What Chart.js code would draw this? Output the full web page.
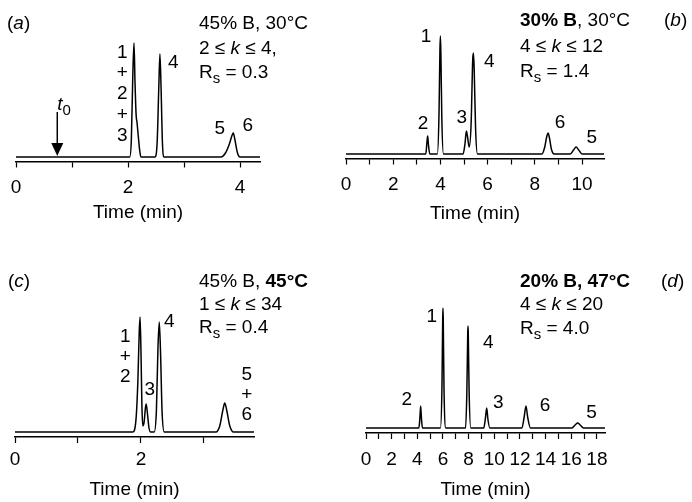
<!DOCTYPE html>
<html>
<head>
<meta charset="utf-8">
<script src="https://cdn.jsdelivr.net/npm/chart.js@4.4.1/dist/chart.umd.min.js"></script>
<style>
  html, body { margin: 0; padding: 0; background: #fff; }
  #wrap { position: relative; width: 692px; height: 502px; }
  #wrap canvas { position: absolute; left: 0; top: 0; }
</style>
</head>
<body>
<div id="wrap">
  <canvas id="chartA" width="692" height="502"></canvas>
  <canvas id="chartB" width="692" height="502"></canvas>
  <canvas id="chartC" width="692" height="502"></canvas>
  <canvas id="chartD" width="692" height="502"></canvas>
</div>
<script>
// Chromatogram traces: retention time (min) and detector signal
const timeA = [0, 2.03, 2.06, 2.085, 2.107, 2.125, 2.145, 2.16, 2.185, 2.21, 2.23,
  2.48, 2.52, 2.55, 2.57, 2.59, 2.615, 2.645,
  3.66, 3.74, 3.81, 3.86, 3.88, 3.91, 3.95, 4.0, 4.357];
const signalA = [0, 0, 18, 80, 114, 75, 42, 35, 20, 6, 0,
  0, 14, 70, 103, 70, 14, 0,
  0, 4, 13, 22, 24, 17, 5, 0, 0];

const timeB = [0, 3.38, 3.43, 3.46, 3.49, 3.55,
  3.87, 3.94, 3.98, 4.0, 4.02, 4.06, 4.13,
  4.96, 5.04, 5.1, 5.15, 5.22, 5.3, 5.37, 5.4, 5.43, 5.49, 5.57,
  8.3, 8.42, 8.51, 8.56, 8.62, 8.7, 8.82,
  9.5, 9.64, 9.75, 9.86, 10.0, 10.93];
const signalB = [0, 0, 12, 18, 10, 0,
  0, 40, 105, 118, 100, 35, 0,
  0, 10, 23, 17, 7, 30, 95, 101, 85, 25, 0,
  0, 7, 18, 21, 16, 5, 0,
  0, 4, 7, 4, 0, 0];

const timeC = [0, 1.87, 1.92, 1.95, 1.972, 1.985, 2.0, 2.015, 2.03, 2.05, 2.07, 2.082, 2.1, 2.125, 2.15,
  2.21, 2.245, 2.27, 2.29, 2.31, 2.335, 2.37,
  3.19, 3.25, 3.3, 3.33, 3.36, 3.41, 3.47, 3.794];
const signalC = [0, 0, 12, 50, 100, 115, 80, 25, 6, 10, 24, 28, 20, 5, 0,
  0, 22, 85, 110, 80, 20, 0,
  0, 6, 22, 29, 22, 6, 0, 0];

const timeD = [0, 4.12, 4.2, 4.26, 4.32, 4.4,
  5.8, 5.92, 5.98, 6.0, 6.02, 6.08, 6.22,
  7.76, 7.86, 7.93, 7.95, 7.97, 8.04, 8.17,
  9.18, 9.3, 9.41, 9.5, 9.65,
  12.15, 12.33, 12.47, 12.6, 12.82,
  16.05, 16.3, 16.5, 16.7, 16.95, 18.63];
const signalD = [0, 0, 10, 22, 10, 0,
  0, 40, 110, 120, 110, 40, 0,
  0, 35, 95, 102, 95, 35, 0,
  0, 9, 20, 9, 0,
  0, 11, 22, 11, 0,
  0, 3, 5, 3, 0, 0];

// labelled ticks on each time axis (minor ticks every minute)
const tickLabelsA = [0, 2, 4];
const tickLabelsB = [0, 2, 4, 6, 8, 10];
const tickLabelsC = [0, 2];
const tickLabelsD = [0, 2, 4, 6, 8, 10, 12, 14, 16, 18];

// peak numbers [time, signal, lines]
const peaksA = [[1.90, 104.5, ['1', '+', '2', '+', '3']], [2.81, 94, ['4']], [3.64, 28, ['5']], [4.14, 31, ['6']]];
const peaksB = [[3.39, 117, ['1']], [6.07, 92.5, ['4']], [3.26, 30, ['2']], [4.90, 36, ['3']], [9.07, 31, ['6']], [10.41, 16, ['5']]];
const peaksC = [[1.75, 95.3, ['1', '+', '2']], [2.14, 42, ['3']], [2.45, 110.3, ['4']], [3.68, 57, ['5', '+', '6']]];
const peaksD = [[5.12, 111, ['1']], [9.53, 85, ['4']], [3.17, 28, ['2']], [10.31, 25, ['3']], [13.95, 22, ['6']], [17.59, 15, ['5']]];

// run conditions, as styled text runs
const condA = [[['45% B, 30°C']], [['2 ≤ '], ['k', 'i'], [' ≤ 4,']], [['R'], ['s', 'sub'], [' = 0.3']]];
const condB = [[['30% B', 'b'], [', 30°C']], [['4 ≤ '], ['k', 'i'], [' ≤ 12']], [['R'], ['s', 'sub'], [' = 1.4']]];
const condC = [[['45% B, '], ['45°C', 'b']], [['1 ≤ '], ['k', 'i'], [' ≤ 34']], [['R'], ['s', 'sub'], [' = 0.4']]];
const condD = [[['20% B, 47°C', 'b']], [['4 ≤ '], ['k', 'i'], [' ≤ 20']], [['R'], ['s', 'sub'], [' = 4.0']]];

const FONT = '"Liberation Sans", Arial, Helvetica, sans-serif';
const SIZE = 19;
Chart.defaults.font.family = FONT;
Chart.defaults.font.size = SIZE;
Chart.defaults.color = '#000';

function drawRich(ctx, x, y, runs) {
  let cx = x;
  ctx.textAlign = 'left';
  ctx.textBaseline = 'alphabetic';
  runs.forEach(([t, st]) => {
    const sub = st === 'sub';
    ctx.font = (st === 'i' ? 'italic ' : '') + (st === 'b' ? 'bold ' : '') + (sub ? 15 : SIZE) + 'px ' + FONT;
    ctx.fillText(t, cx, y + (sub ? 5 : 0));
    cx += ctx.measureText(t).width;
  });
}

function makePanel(id, p) {
  const axisH = p.titleY + SIZE * 0.6 - p.axisY;
  const notes = {
    id: 'notes' + id,
    afterDraw(chart) {
      const ctx = chart.ctx;
      const xs = chart.scales.x, ys = chart.scales.y;
      ctx.save();
      ctx.fillStyle = '#000';
      // panel letter and conditions
      drawRich(ctx, p.tag[0], p.tag[1], [['('], [p.letter, 'i'], [')']]);
      p.cond.forEach((runs, i) => drawRich(ctx, p.condX, p.condY[i], runs));
      // peak numbers
      ctx.font = SIZE + 'px ' + FONT;
      ctx.textAlign = 'center';
      ctx.textBaseline = 'middle';
      p.peaks.forEach(([t, v, lines]) => {
        const px = xs.getPixelForValue(t), py = ys.getPixelForValue(v);
        lines.forEach((s, i) => ctx.fillText(s, px, py + i * p.stack));
      });
      // dead-time marker
      if (p.t0) {
        const ax = xs.getPixelForValue(p.t0.x);
        const top = ys.getPixelForValue(p.t0.from), tip = ys.getPixelForValue(p.t0.to);
        ctx.strokeStyle = '#000';
        ctx.lineWidth = 1.5;
        ctx.beginPath();
        ctx.moveTo(ax, top);
        ctx.lineTo(ax, tip - 12);
        ctx.stroke();
        ctx.beginPath();
        ctx.moveTo(ax - 6, tip - 13);
        ctx.lineTo(ax + 6, tip - 13);
        ctx.lineTo(ax, tip);
        ctx.closePath();
        ctx.fill();
        drawRich(ctx, ax, top - 2, [['t', 'i'], ['0', 'sub']]);
      }
      ctx.restore();
    }
  };

  return new Chart(document.getElementById(id), {
    type: 'line',
    data: {
      datasets: [{
        data: p.time.map((t, i) => ({ x: t, y: p.signal[i] })),
        borderColor: '#000',
        borderWidth: 1.5,
        pointRadius: 0,
        cubicInterpolationMode: 'monotone',
        fill: false
      }]
    },
    options: {
      responsive: false,
      animation: false,
      events: [],
      layout: {
        padding: { left: p.left, right: 692 - p.right, top: p.top, bottom: 502 - p.axisY - axisH }
      },
      plugins: { legend: { display: false }, tooltip: { enabled: false } },
      scales: {
        x: {
          type: 'linear',
          min: 0,
          max: p.xMax,
          border: { color: '#000', width: 1.4 },
          grid: { drawOnChartArea: false, drawTicks: true, tickLength: 6, tickWidth: 1.2, tickColor: '#000' },
          ticks: {
            stepSize: 1,
            autoSkip: false,
            maxRotation: 0,
            includeBounds: false,
            padding: p.tickPad,
            callback: v => p.labels.includes(v) ? String(v) : ''
          },
          title: { display: true, text: 'Time (min)', padding: { top: 0, bottom: 0 } },
          afterFit: s => { s.height = axisH; }
        },
        y: { display: false, min: -(p.axisY - p.baseY), max: p.baseY - p.top }
      }
    },
    plugins: [notes]
  });
}

makePanel('chartA', {
  time: timeA, signal: signalA, labels: tickLabelsA, peaks: peaksA, cond: condA,
  letter: 'a', tag: [7, 29], condX: 199, condY: [29, 54, 78], stack: 20.75,
  xMax: 4.357, left: 16, right: 260, top: 20, axisY: 161.5, baseY: 157, tickPad: 9, titleY: 213,
  t0: { x: 0.737, from: 45, to: 1 }
});
makePanel('chartB', {
  time: timeB, signal: signalB, labels: tickLabelsB, peaks: peaksB, cond: condB,
  letter: 'b', tag: [664, 26], condX: 520, condY: [26, 52, 77], stack: 20,
  xMax: 10.93, left: 346, right: 604, top: 20, axisY: 158.5, baseY: 154, tickPad: 9, titleY: 214
});
makePanel('chartC', {
  time: timeC, signal: signalC, labels: tickLabelsC, peaks: peaksC, cond: condC,
  letter: 'c', tag: [8, 287], condX: 199, condY: [287, 310, 333], stack: 20,
  xMax: 3.794, left: 15, right: 254, top: 270, axisY: 437, baseY: 432, tickPad: 5.6, titleY: 490
});
makePanel('chartD', {
  time: timeD, signal: signalD, labels: tickLabelsD, peaks: peaksD, cond: condD,
  letter: 'd', tag: [661, 287], condX: 520, condY: [287, 310, 334], stack: 20,
  xMax: 18.63, left: 366, right: 605, top: 270, axisY: 433, baseY: 428, tickPad: 9.6, titleY: 490
});
</script>
</body>
</html>
